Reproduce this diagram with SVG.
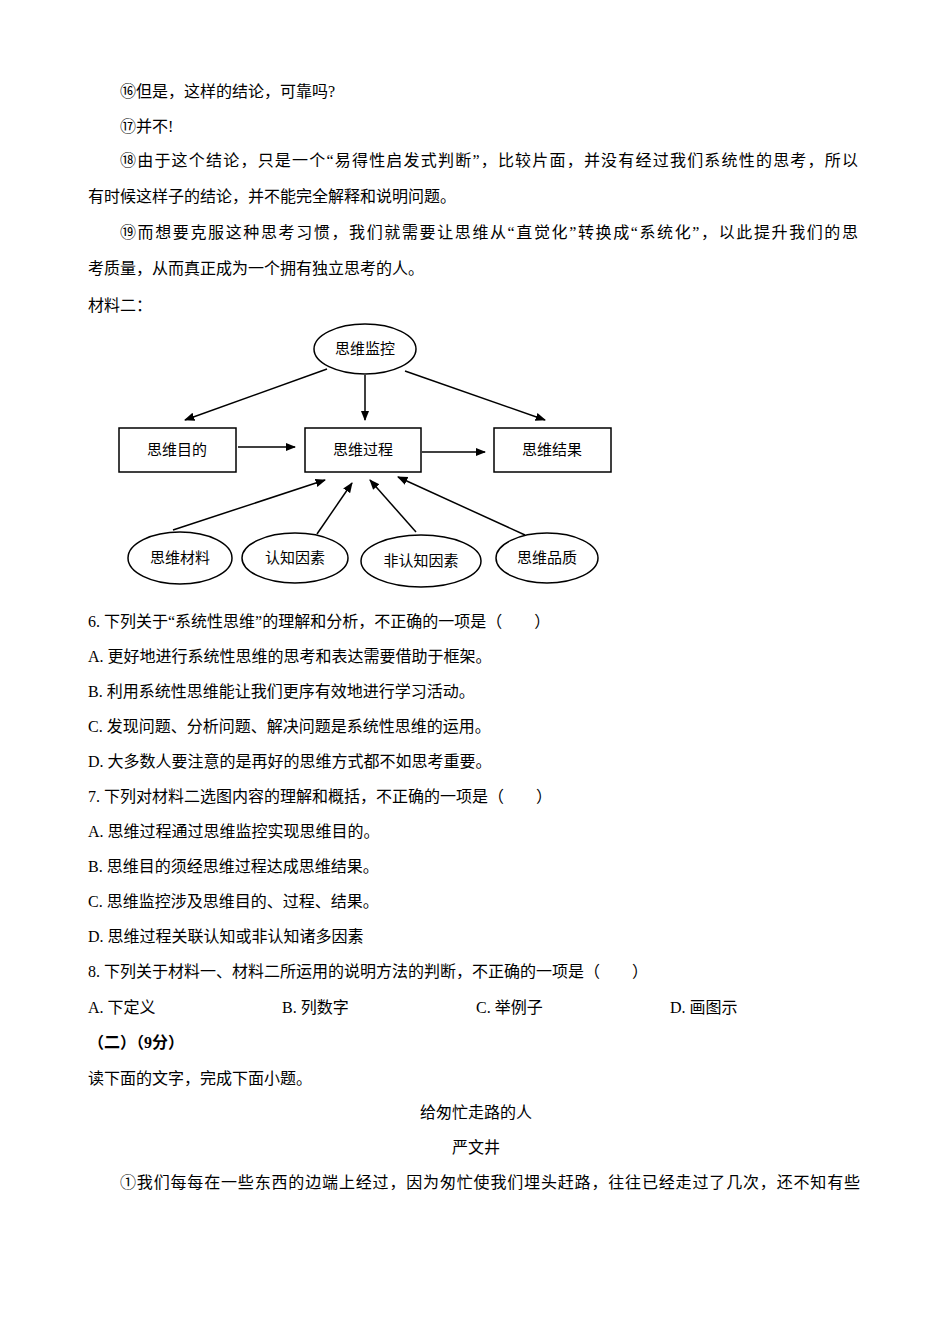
<svg xmlns="http://www.w3.org/2000/svg" width="950" height="1344" viewBox="0 0 950 1344">
<style>
text{font-family:"Liberation Serif","Noto Sans CJK SC",serif;font-size:16px;fill:#000}
.d{font-family:"Liberation Sans","Noto Sans CJK SC",sans-serif;font-size:15px;text-anchor:middle}
.s{fill:#fff;stroke:#000;stroke-width:1.5}
.c line{stroke:#000;stroke-width:1.5;marker-end:url(#a)}
</style>
<defs><marker id="a" viewBox="0 0 10 10" refX="9" refY="5" markerWidth="7" markerHeight="7" orient="auto"><path d="M0,1 L10,5 L0,9 z" fill="#000"/></marker></defs>
<rect width="950" height="1344" fill="#fff"/>
<text x="120" y="97">⑯但是，这样的结论，可靠吗?</text>
<text x="120" y="132">⑰并不!</text>
<text x="120" y="166" textLength="738" lengthAdjust="spacing">⑱由于这个结论，只是一个“易得性启发式判断”，比较片面，并没有经过我们系统性的思考，所以</text>
<text x="88" y="202">有时候这样子的结论，并不能完全解释和说明问题。</text>
<text x="120" y="238" textLength="738" lengthAdjust="spacing">⑲而想要克服这种思考习惯，我们就需要让思维从“直觉化”转换成“系统化”，以此提升我们的思</text>
<text x="88" y="274">考质量，从而真正成为一个拥有独立思考的人。</text>
<text x="88" y="311">材料二：</text>
<g class="c">
<line x1="327" y1="369" x2="185" y2="420"/>
<line x1="365" y1="375" x2="365" y2="420"/>
<line x1="405" y1="371" x2="545" y2="420"/>
<line x1="238" y1="447" x2="295" y2="447"/>
<line x1="422" y1="452" x2="485" y2="452"/>
<line x1="173" y1="530" x2="325" y2="480"/>
<line x1="317" y1="534" x2="352" y2="483"/>
<line x1="416" y1="532" x2="370" y2="480"/>
<line x1="525" y1="535" x2="398" y2="477"/>
</g>
<g id="jk"><ellipse class="s" cx="365" cy="349" rx="51" ry="25"/><text class="d" x="365" y="354">思维监控</text></g>
<g id="md"><rect class="s" x="119" y="428" width="117" height="44"/><text class="d" x="177" y="455">思维目的</text></g>
<g id="gc"><rect class="s" x="305" y="428" width="116" height="44"/><text class="d" x="363" y="455">思维过程</text></g>
<g id="jg"><rect class="s" x="494" y="428" width="117" height="44"/><text class="d" x="552" y="455">思维结果</text></g>
<g id="cl"><ellipse class="s" cx="180" cy="558" rx="52" ry="26"/><text class="d" x="180" y="563">思维材料</text></g>
<g id="rz"><ellipse class="s" cx="295" cy="558" rx="53" ry="25"/><text class="d" x="295" y="563">认知因素</text></g>
<g id="frz"><ellipse class="s" cx="421" cy="561" rx="60" ry="26"/><text class="d" x="421" y="566">非认知因素</text></g>
<g id="pz"><ellipse class="s" cx="547" cy="558" rx="51" ry="25"/><text class="d" x="547" y="563">思维品质</text></g>
<text x="88" y="627">6. 下列关于“系统性思维”的理解和分析，不正确的一项是（　　）</text>
<text x="88" y="662">A. 更好地进行系统性思维的思考和表达需要借助于框架。</text>
<text x="88" y="697">B. 利用系统性思维能让我们更序有效地进行学习活动。</text>
<text x="88" y="732">C. 发现问题、分析问题、解决问题是系统性思维的运用。</text>
<text x="88" y="767">D. 大多数人要注意的是再好的思维方式都不如思考重要。</text>
<text x="88" y="802">7. 下列对材料二选图内容的理解和概括，不正确的一项是（　　）</text>
<text x="88" y="837">A. 思维过程通过思维监控实现思维目的。</text>
<text x="88" y="872">B. 思维目的须经思维过程达成思维结果。</text>
<text x="88" y="907">C. 思维监控涉及思维目的、过程、结果。</text>
<text x="88" y="942">D. 思维过程关联认知或非认知诸多因素</text>
<text x="88" y="977">8. 下列关于材料一、材料二所运用的说明方法的判断，不正确的一项是（　　）</text>
<text x="88" y="1013">A. 下定义</text>
<text x="282" y="1013">B. 列数字</text>
<text x="476" y="1013">C. 举例子</text>
<text x="670" y="1013">D. 画图示</text>
<text x="88" y="1048" font-weight="bold">（二）（9分）</text>
<text x="88" y="1084">读下面的文字，完成下面小题。</text>
<text x="476" y="1118" text-anchor="middle">给匆忙走路的人</text>
<text x="476" y="1153" text-anchor="middle">严文井</text>
<text x="120" y="1188" textLength="740" lengthAdjust="spacing">①我们每每在一些东西的边端上经过，因为匆忙使我们埋头赶路，往往已经走过了几次，还不知有些</text>
</svg>
